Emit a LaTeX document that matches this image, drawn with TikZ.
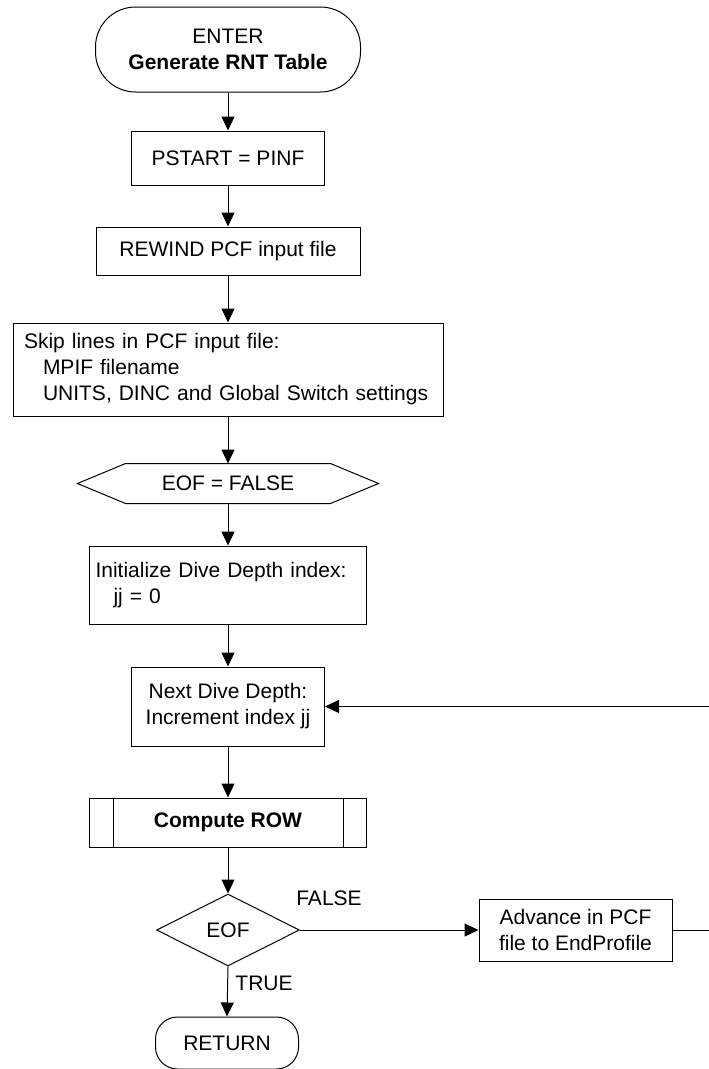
\documentclass[tikz,border=0pt]{standalone}
\usepackage{fontspec}
\setmainfont{Liberation Sans}
\usetikzlibrary{arrows.meta,shapes.geometric}
\begin{document}
\begin{tikzpicture}[x=1pt,y=-1pt, line width=1pt,
  font=\fontsize{21}{26}\selectfont,
  box/.style={draw, rectangle, inner sep=0pt},
  arr/.style={-{Triangle[length=14pt,width=13pt]}},
  lbl/.style={inner sep=0pt}]
\useasboundingbox (0,0) rectangle (709,1069);

\node[box, rounded corners=40pt, minimum width=265pt, minimum height=85pt, align=center] (enter) at (228,49.5) {ENTER\\\textbf{Generate RNT Table}};
\node[box, minimum width=193pt, minimum height=54pt] (pstart) at (228,158) {PSTART = PINF};
\node[box, minimum width=264pt, minimum height=48pt] (rewind) at (228,251) {REWIND PCF input file};
\node[box, minimum width=430pt, minimum height=93pt, align=left, text width=408pt] (skip) at (228,369.5) {Skip lines in PCF input file:\\\hspace*{19pt}MPIF filename\\\hspace*{19pt}UNITS, DINC and Global Switch settings};
\node[minimum width=300pt, minimum height=39pt, inner sep=0pt] (hex) at (228,483.5) {EOF = FALSE};
\draw (hex.west) -- ([xshift=48pt]hex.north west) -- ([xshift=-48pt]hex.north east) -- (hex.east) -- ([xshift=-48pt]hex.south east) -- ([xshift=48pt]hex.south west) -- cycle;
\node[box, minimum width=277pt, minimum height=78pt, align=left, text width=265pt] (init) at (228,585) {Initialize Dive Depth index:\\\hspace*{18pt}jj = 0};
\node[box, minimum width=193pt, minimum height=79pt, align=center] (next) at (228,706.5) {Next Dive Depth:\\Increment index jj};
\node[box, minimum width=277pt, minimum height=49pt] (comp) at (228,822.5) {\bfseries Compute ROW};
\draw ([xshift=24pt]comp.north west) -- ([xshift=24pt]comp.south west);
\draw ([xshift=-24pt]comp.north east) -- ([xshift=-24pt]comp.south east);
\node[draw, diamond, aspect=2, inner sep=0pt, minimum width=143pt, minimum height=72pt] (eof) at (228,930) {EOF};
\node[box, minimum width=193pt, minimum height=62pt, align=center] (adv) at (575.5,930) {Advance in PCF\\file to EndProfile};
\node[box, rounded corners=22pt, minimum width=143pt, minimum height=52pt] (ret) at (227,1043) {RETURN};
\node[lbl] (lf) at (329,898) {FALSE};
\node[lbl] (lt) at (264,983) {TRUE};

\draw[arr] (enter) -- (pstart);
\draw[arr] (pstart) -- (rewind);
\draw[arr] (rewind) -- (skip);
\draw[arr] (skip) -- (hex);
\draw[arr] (hex) -- (init);
\draw[arr] (init) -- (next);
\draw[arr] (next) -- (comp);
\draw[arr] (comp) -- (eof);
\draw[arr] (eof) -- (adv);
\draw[arr] (eof.south) -- (ret.north);
\coordinate (rt) at (711,706.5);
\draw[arr] (adv.east) -| (rt) -- (next.east);
\end{tikzpicture}
\end{document}
